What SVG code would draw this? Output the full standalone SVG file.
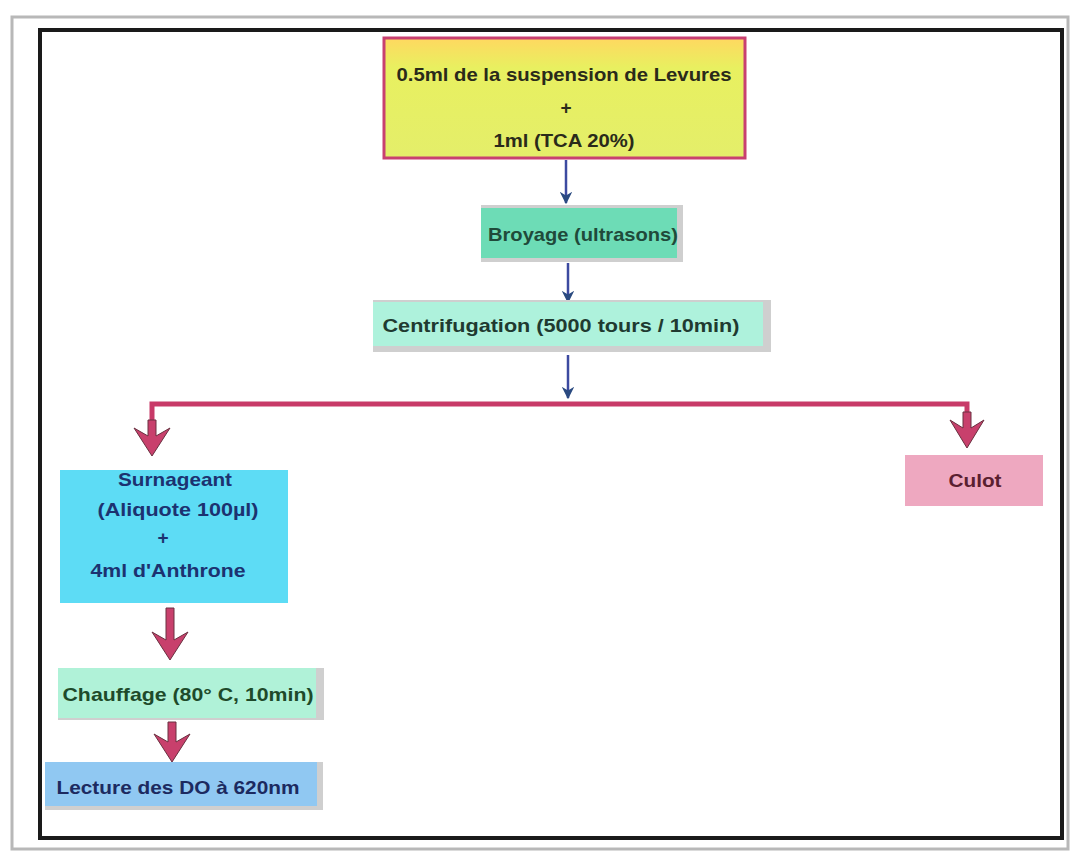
<svg xmlns="http://www.w3.org/2000/svg" width="1076" height="855" viewBox="0 0 1076 855">
<defs>
<style>
.t{font-family:"Liberation Sans",Arial,sans-serif;font-size:19px;font-weight:bold;text-anchor:middle}
.sh{fill:#cfcfcf}
.blue{stroke:#3c4aa0;stroke-width:2.5;fill:none}
.red{stroke:#c83a68;stroke-width:5;fill:none}
.rh{fill:#c8406c;stroke:#6a3040;stroke-width:1}
</style>
<marker id="ba" viewBox="0 0 10 10" refX="9" refY="5" markerWidth="5" markerHeight="5" orient="auto" markerUnits="strokeWidth">
<path d="M0,0 L10,5 L0,10 L3,5 z" fill="#2a4a80"/>
</marker>
<linearGradient id="yg" x1="0" y1="0" x2="0" y2="1"><stop offset="0" stop-color="#ffd860"/><stop offset="0.25" stop-color="#e8f060"/><stop offset="1" stop-color="#e4ee6a"/></linearGradient>
</defs>
<rect x="0" y="0" width="1076" height="855" fill="#ffffff"/>
<rect x="12" y="17" width="1056" height="832" fill="none" stroke="#b8b8b8" stroke-width="3"/>
<rect x="40" y="30" width="1022" height="808" fill="none" stroke="#1a1a1a" stroke-width="4"/>

<g id="connectors">
<line class="blue" x1="566" y1="160" x2="566" y2="203" marker-end="url(#ba)"/>
<line class="blue" x1="568" y1="263" x2="568" y2="302" marker-end="url(#ba)"/>
<line class="blue" x1="568" y1="355" x2="568" y2="398" marker-end="url(#ba)"/>
<polyline class="red" points="152,432 152,404 967,404 967,428"/>
<polygon class="rh" points="152,456 134,428 148,436 148,420 156,420 156,436 170,428"/>
<polygon class="rh" points="967,448 950,420 963,428 963,412 971,412 971,428 984,420"/>
<polygon class="rh" points="170,660 152,632 166,640 166,608 174,608 174,640 188,632"/>
<polygon class="rh" points="172,762 154,734 168,742 168,722 176,722 176,742 190,734"/>
</g>

<g id="n_start">
<rect x="384" y="38" width="361" height="120" fill="url(#yg)" stroke="#c84070" stroke-width="3"/>
<text class="t" x="564" y="81" fill="#2a2a1a" textLength="335" lengthAdjust="spacingAndGlyphs">0.5ml de la suspension de Levures</text>
<text class="t" x="566" y="114" fill="#2a2a1a" font-weight="normal">+</text>
<text class="t" x="564" y="147" fill="#2a2a1a" textLength="141" lengthAdjust="spacingAndGlyphs">1ml (TCA 20%)</text>
</g>

<g id="n_broyage">
<rect class="sh" x="481" y="205" width="202" height="57"/>
<rect x="481" y="208" width="196" height="50" fill="#6ddcb6"/>
<text class="t" x="583" y="241" fill="#204a3a" textLength="190" lengthAdjust="spacingAndGlyphs">Broyage (ultrasons)</text>
</g>

<g id="n_centri">
<rect class="sh" x="373" y="300" width="398" height="52"/>
<rect x="373" y="302" width="390" height="44" fill="#aef2dc"/>
<text class="t" x="561" y="332" fill="#203a30" textLength="357" lengthAdjust="spacingAndGlyphs">Centrifugation (5000 tours / 10min)</text>
</g>

<g id="n_surnageant">
<rect x="60" y="470" width="228" height="133" fill="#5ddcf5"/>
<g fill="#1c3270">
<text class="t" x="175" y="486" textLength="114" lengthAdjust="spacingAndGlyphs">Surnageant</text>
<text class="t" x="178" y="516" textLength="161" lengthAdjust="spacingAndGlyphs">(Aliquote 100µl)</text>
<text class="t" x="163" y="544">+</text>
<text class="t" x="168" y="577" textLength="155" lengthAdjust="spacingAndGlyphs">4ml d'Anthrone</text>
</g>
</g>

<g id="n_culot">
<rect x="905" y="455" width="138" height="51" fill="#eea8c0"/>
<text class="t" x="975" y="487" fill="#5a2030" textLength="53" lengthAdjust="spacingAndGlyphs">Culot</text>
</g>

<g id="n_chauffage">
<rect class="sh" x="58" y="668" width="266" height="52"/>
<rect x="58" y="668" width="258" height="50" fill="#b0f2d8"/>
<text class="t" x="188" y="701" fill="#1e4a2a" textLength="251" lengthAdjust="spacingAndGlyphs">Chauffage (80° C, 10min)</text>
</g>

<g id="n_lecture">
<rect class="sh" x="45" y="762" width="278" height="48"/>
<rect x="45" y="762" width="272" height="44" fill="#90c8f2"/>
<text class="t" x="178" y="794" fill="#1c2a60" textLength="243" lengthAdjust="spacingAndGlyphs">Lecture des DO à 620nm</text>
</g>
</svg>
